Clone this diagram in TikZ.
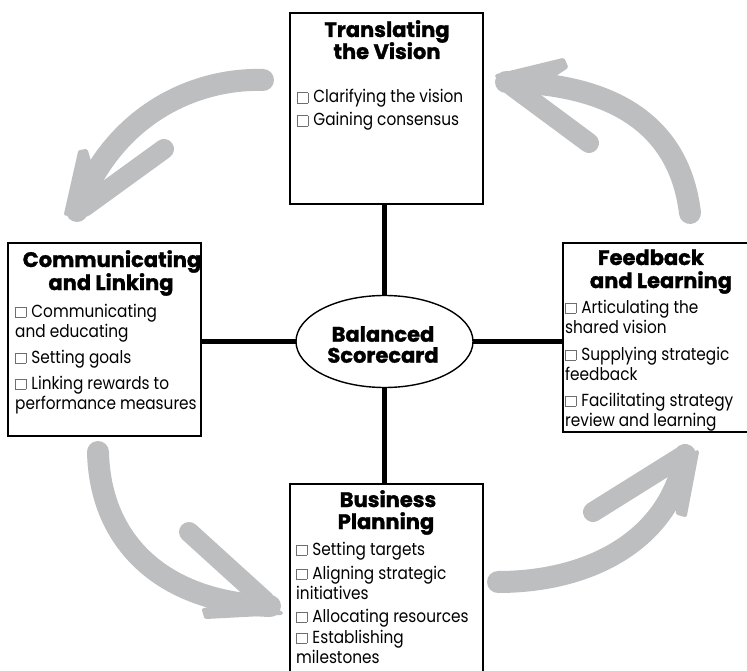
\documentclass[tikz,border=0pt]{standalone}
\usepackage{fontspec}
\setmainfont{Poppins}
\newfontfamily\itemfont{Poppins}[FakeStretch=0.875]
\newfontfamily\headfont{Poppins}[BoldFeatures={FakeBold=1.4}]
\definecolor{arrowgray}{HTML}{BDBEC0}
\definecolor{cbgray}{HTML}{6E6E6E}
\newcommand\cbx{{\color{cbgray}\setlength\fboxsep{0pt}\setlength\fboxrule{0.7pt}\fbox{\phantom{\rule{9.8pt}{9.8pt}}}}\hspace{5pt}}
\newcommand\lines[1]{\begin{tabular}[t]{@{}l@{}}#1\end{tabular}}
\tikzset{
  box/.style={draw=black, line width=1.4pt, rectangle, inner sep=0pt, outer sep=0pt, fill=white},
  hub/.style={draw=black, line width=1.4pt, ellipse, inner sep=0pt, outer sep=0pt, fill=white},
  conn/.style={draw=black, line width=4.6pt},
  titletext/.style={anchor=base, inner sep=0pt, font=\headfont\bfseries\fontsize{21}{22}\selectfont},
  itemtext/.style={anchor=base west, inner sep=0pt, font=\itemfont\fontsize{17.5}{20.5}\selectfont},
  shaft/.style={draw=arrowgray, line width=22pt, line cap=round},
  barb/.style={draw=arrowgray, line width=20pt, line cap=round},
  spike/.style={draw=arrowgray, fill=arrowgray, line width=4pt, line join=round}
}
\usetikzlibrary{shapes.geometric}
\begin{document}
\begin{tikzpicture}[x=1pt,y=-1pt]
\useasboundingbox (0,0) rectangle (747,671);
\clip (0,0) rectangle (747,671);
% gray cycle arrows
% top-left
\coordinate (tlS) at (263,80); \coordinate (tlT) at (77,211); \coordinate (tlB) at (164,149);
\draw[shaft] (tlS) .. controls (200,78) and (115,110) .. (tlT);
\draw[barb] (84,207) -- (tlB);
\fill[spike] (66,214) -- (80,152) -- (86,151) -- (96,185) -- cycle;
% top-right
\coordinate (trS) at (690,213); \coordinate (trT) at (506,82); \coordinate (trB) at (589,143);
\draw[shaft] (trS) .. controls (680,130) and (620,84) .. (trT);
\draw[barb] (512,86) -- (trB);
\fill[spike] (497,76) -- (563,60) -- (566,67) -- (540,84) -- cycle;
% bottom-left
\coordinate (blS) at (98,452); \coordinate (blT) at (270,606); \coordinate (blB) at (189,532);
\draw[shaft] (blS) .. controls (100,540) and (160,602) .. (blT);
\draw[barb] (265,601) -- (blB);
\fill[spike] (281,613) -- (206,617) -- (204,610) -- (240,602) -- cycle;
% bottom-right
\coordinate (brS) at (498,582); \coordinate (brT) at (685,455); \coordinate (brB) at (593,512);
\draw[shaft] (brS) .. controls (590,582) and (670,540) .. (brT);
\draw[barb] (681,457) -- (brB);
\fill[spike] (697,452) -- (685,515) -- (678,513) -- (674,478) -- cycle;

% boxes
\node[box, minimum width=193pt, minimum height=191pt] (tv) at (386.5,108.5) {};
\node[box, minimum width=193pt, minimum height=193pt] (cl) at (104.5,339.5) {};
\node[box, minimum width=187pt, minimum height=189pt] (fl) at (656.5,337.5) {};
\node[box, minimum width=193pt, minimum height=206pt] (bp) at (386.5,587) {};
\node[hub, minimum width=177pt, minimum height=92pt] (bsc) at (384.5,341.5) {};

% connectors
\draw[conn] (bsc.north) -- (bsc.north |- tv.south);
\draw[conn] (bsc.south) -- (bsc.south |- bp.north);
\draw[conn] (bsc.west) -- (bsc.west -| cl.east);
\draw[conn] (bsc.east) -- (bsc.east -| fl.west);

% hub text
\node[titletext] (bsc1) at (383,341.7) {Balanced};
\node[titletext] (bsc2) at (383,362.7) {Scorecard};

% top box
\node[titletext] (tvh1) at (387,37) {Translating};
\node[titletext] (tvh2) at (387,59) {the Vision};
\node[itemtext] (tvi1) at (297,103) {\lines{\cbx Clarifying the vision}};
\node[itemtext] (tvi2) at (297,126) {\lines{\cbx Gaining consensus}};

% left box
\node[titletext] (clh1) at (112,267) {Communicating};
\node[titletext] (clh2) at (111,290) {and Linking};
\node[itemtext] (cli1) at (15,317) {\lines{\cbx Communicating\\and educating}};
\node[itemtext] (cli2) at (15,363) {\lines{\cbx Setting goals}};
\node[itemtext] (cli3) at (15,389) {\lines{\cbx Linking rewards to\\performance measures}};

% right box
\node[titletext] (flh1) at (651,265) {Feedback};
\node[titletext] (flh2) at (661,288) {and Learning};
\node[itemtext] (fli1) at (565,313) {\lines{\cbx Articulating the\\shared vision}};
\node[itemtext] (fli2) at (565,360) {\lines{\cbx Supplying strategic\\feedback}};
\node[itemtext] (fli3) at (565,406) {\lines{\cbx Facilitating strategy\\review and learning}};

% bottom box
\node[titletext] (bph1) at (388,507) {Business};
\node[titletext] (bph2) at (386,529) {Planning};
\node[itemtext] (bpi1) at (296,555) {\lines{\cbx Setting targets}};
\node[itemtext] (bpi2) at (296,579) {\lines{\cbx Aligning strategic\\initiatives}};
\node[itemtext] (bpi3) at (296,622) {\lines{\cbx Allocating resources}};
\node[itemtext] (bpi4) at (296,643) {\lines{\cbx Establishing\\milestones}};
\end{tikzpicture}
\end{document}
